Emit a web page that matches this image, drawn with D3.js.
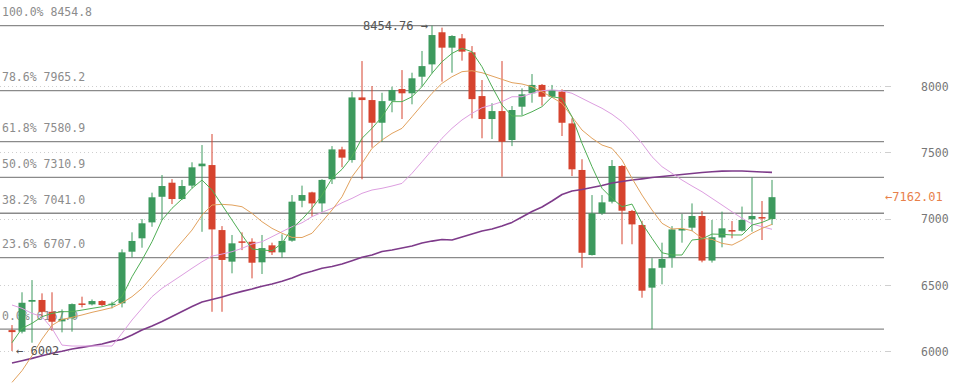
<!DOCTYPE html>
<html><head><meta charset="utf-8">
<script src="https://cdn.jsdelivr.net/npm/d3@7"></script>
<style>
html,body{margin:0;padding:0;background:#fff;}
svg{display:block;}
text{font-family:"DejaVu Sans Mono",monospace;}
</style></head>
<body><svg id="c" width="973" height="384"></svg>
<script>
// ---------- data ----------
const openP  = [6160,6148,6374,6387,6298,6226,6249,6361,6354,6379,6354,6362,6751,6852,6972,7165,7271,7148,7249,7395,7404,6914,6676,6829,6826,6671,6799,6746,6834,7135,7198,7115,7297,7522,7442,7914,7894,7723,7889,7977,7945,8070,8163,8405,8289,8359,8254,7924,7751,7811,7593,7844,7945,8008,7919,7957,7718,7367,6726,7040,7128,7397,7058,6952,6480,6630,6706,6917,6932,7020,6684,6858,6914,6909,6995,7012,6997];
const closeP = [6145,6366,6387,6298,6223,6244,6356,6354,6379,6349,6359,6746,6832,6965,7161,7246,7148,7246,7387,7415,6919,6689,6814,6824,6668,6778,6746,6832,7128,7178,7115,7292,7522,7460,7914,7894,7723,7886,7970,7945,8058,8150,8384,8289,8377,8259,7901,7751,7811,7580,7819,7937,8008,7919,7970,7723,7372,6743,7040,7123,7397,7060,6957,6457,6626,6696,6919,6922,7020,6684,6860,6927,6907,6990,7020,7005,7162.01];
const highP  = [6198,6445,6537,6437,6445,6316,6361,6412,6391,6386,6374,6769,6897,6997,7196,7329,7298,7292,7425,7555,7638,6944,6877,6897,6852,6877,6819,6882,7178,7249,7203,7297,7547,7542,7957,8188,8000,7949,7995,8120,8100,8264,8454.76,8440,8383,8392,8301,8045,7870,8188,7849,7982,8090,8015,8008,7975,7756,7448,7178,7178,7442,7404,7066,6984,6702,6819,6944,7035,7115,7058,6990,7053,6982,7091,7311,7133,7292];
const lowP   = [6002,6135,6065,6261,6155,6143,6148,6331,6346,6341,6324,6331,6708,6781,6939,6990,7110,7140,7229,6901,6298,6298,6588,6763,6550,6583,6726,6705,6826,7086,7015,7048,7261,7387,7422,7297,7535,7579,7802,7751,7862,7995,8095,8033,8100,8191,7756,7606,7600,7316,7547,7781,7874,7852,7914,7623,7321,6630,6722,7028,7115,6807,6807,6404,6167,6505,6630,6819,6906,6671,6669,6784,6852,6902,6902,6839,6952];

const ma5  = [6065,6173,6211,6261,6286,6299,6299,6311,6324,6336,6357,6412,6562,6688,6826,6990,7078,7148,7229,7291,7216,7103,6990,6877,6771,6764,6758,6814,6927,6995,7078,7178,7304,7372,7467,7606,7681,7768,7882,7882,7919,7995,8096,8183,8246,8284,8258,8145,7995,7857,7774,7774,7806,7844,7919,7907,7768,7568,7392,7229,7153,7090,7110,6965,6852,6743,6726,6726,6839,6847,6884,6882,6877,6877,6952,6972,7003];
const ma10 = [5766,5854,5967,6093,6196,6241,6256,6274,6294,6311,6329,6366,6412,6475,6562,6651,6739,6826,6914,7027,7103,7108,7103,7090,7040,6977,6927,6890,6859,6858,6890,6977,7065,7165,7316,7417,7530,7593,7643,7681,7768,7857,7945,8020,8070,8108,8115,8100,8075,8050,8025,8015,7995,7957,7915,7869,7768,7668,7606,7555,7530,7442,7304,7178,7065,6965,6922,6927,6909,6852,6844,6814,6801,6839,6890,6927,6957];
const ma20 = [6349,6324,6286,6261,6173,6047,6040,6040,6040,6040,6040,6136,6236,6324,6412,6475,6525,6575,6626,6675,6718,6733,6751,6776,6809,6826,6864,6902,6939,6969,7015,7048,7078,7120,7153,7191,7216,7229,7246,7266,7342,7429,7517,7606,7681,7744,7794,7836,7857,7882,7919,7919,7945,7964,7970,7964,7945,7907,7869,7832,7787,7731,7655,7568,7467,7392,7342,7291,7246,7203,7153,7103,7052,7003,6960,6939,6920];
const ma60 = [5912,5929,5947,5967,5985,6000,6017,6030,6042,6055,6075,6089,6123,6161,6191,6225,6262,6300,6338,6372,6390,6409,6432,6452,6470,6490,6507,6528,6553,6583,6603,6626,6639,6658,6683,6709,6726,6752,6764,6779,6794,6816,6831,6843,6839,6862,6884,6907,6922,6945,6972,7012,7054,7088,7133,7182,7208,7220,7235,7250,7269,7280,7291,7300,7310,7318,7325,7333,7340,7348,7354,7358,7359,7359,7355,7352,7349];

const fibLabels = ["100.0%","78.6%","61.8%","50.0%","38.2%","23.6%","0.0%"];
const fibValues = [8454.8, 7965.2, 7580.9, 7310.9, 7041.0, 6707.0, 6167.0];
const yTicks = [6000, 6500, 7000, 7500, 8000];
const lastPrice = 7162.01;
const highMark = 8454.76;
const lowMark = 6002;

// ---------- chart ----------
const svg = d3.select("#c");
const idx = d3.range(openP.length);
const x = d3.scaleBand().domain(idx).range([7, 777]).paddingInner(0.3).paddingOuter(0.15);
const cx = i => 12 + 10 * i; // placeholder replaced below
const xc = i => x(i) + x.bandwidth() / 2;
const y = d3.scaleLinear().domain([6000, 8000]).range([351.33, 86]);

const gridRight = 884;

// dotted grid
const grid = svg.append("g");
yTicks.forEach(t => {
  const yy = Math.round(y(t)) + 0.5;
  grid.append("line").attr("x1", 0).attr("x2", gridRight).attr("y1", yy).attr("y2", yy)
    .attr("stroke", "#cfcfcf").attr("stroke-width", 1).attr("stroke-dasharray", "1,3");
  grid.append("line").attr("x1", 885).attr("x2", 891).attr("y1", yy).attr("y2", yy)
    .attr("stroke", "#cfcfcf").attr("stroke-width", 1);
});
// y axis labels
const yAxis = d3.axisRight(y).tickValues(yTicks).tickSize(0).tickFormat(d3.format("d"));
const ga = svg.append("g").attr("transform", "translate(921,0)").call(yAxis);
ga.select(".domain").remove();
ga.selectAll("text").attr("x", 0).attr("dy", "0.35em").attr("fill", "#777")
  .style("font-size", "11.5px").style("font-family", '"DejaVu Sans Mono",monospace');

// fib lines + labels
const fib = svg.append("g");
fibValues.forEach((v, k) => {
  const yy = y(v);
  fib.append("line").attr("x1", 0).attr("x2", gridRight).attr("y1", yy).attr("y2", yy)
    .attr("stroke", "#8a8a8a").attr("stroke-width", 1.3);
  fib.append("text").attr("x", 2).attr("y", yy - 9.5).attr("fill", "#8c8c8c")
    .style("font-size", "11.5px").text(fibLabels[k] + " " + v.toFixed(1));
});

// candles
const up = "#3d9a5e", down = "#d6432e";
const cg = svg.append("g");
idx.forEach(i => {
  const o = openP[i], c = closeP[i], h = highP[i], l = lowP[i];
  const col = c >= o ? up : down;
  const xm = xc(i);
  cg.append("line").attr("x1", xm).attr("x2", xm).attr("y1", y(h)).attr("y2", y(l))
    .attr("stroke", col).attr("stroke-width", 1);
  const top = y(Math.max(o, c)), bot = y(Math.min(o, c));
  cg.append("rect").attr("x", x(i)).attr("width", x.bandwidth())
    .attr("y", top).attr("height", Math.max(1.5, bot - top)).attr("fill", col);
});

// moving averages
const line = arr => d3.line().x((d, i) => xc(i)).y(d => y(d))(arr);
const maDefs = [
  {data: ma60, color: "#7e3b8a", w: 1.6},
  {data: ma20, color: "#dd9ee0", w: 1},
  {data: ma10, color: "#e2a25e", w: 1},
  {data: ma5,  color: "#4fae55", w: 1}
];
maDefs.forEach(m => {
  svg.append("path").attr("d", line(m.data)).attr("fill", "none")
    .attr("stroke", m.color).attr("stroke-width", m.w).attr("stroke-linejoin", "round");
});

// annotations
const hi = highP.indexOf(highMark);
svg.append("text").attr("x", xc(hi) - 4).attr("y", y(highMark) + 4).attr("text-anchor", "end")
  .attr("fill", "#555").style("font-size", "12px").text(highMark.toFixed(2) + " →");
const lo = lowP.indexOf(lowMark);
svg.append("text").attr("x", xc(lo) + 4).attr("y", y(lowMark) + 4)
  .attr("fill", "#555").style("font-size", "12px").text("← " + lowMark);
svg.append("text").attr("x", 885).attr("y", y(lastPrice) + 4)
  .attr("fill", "#e8804a").style("font-size", "12px").text("←" + lastPrice.toFixed(2));
</script></body></html>
